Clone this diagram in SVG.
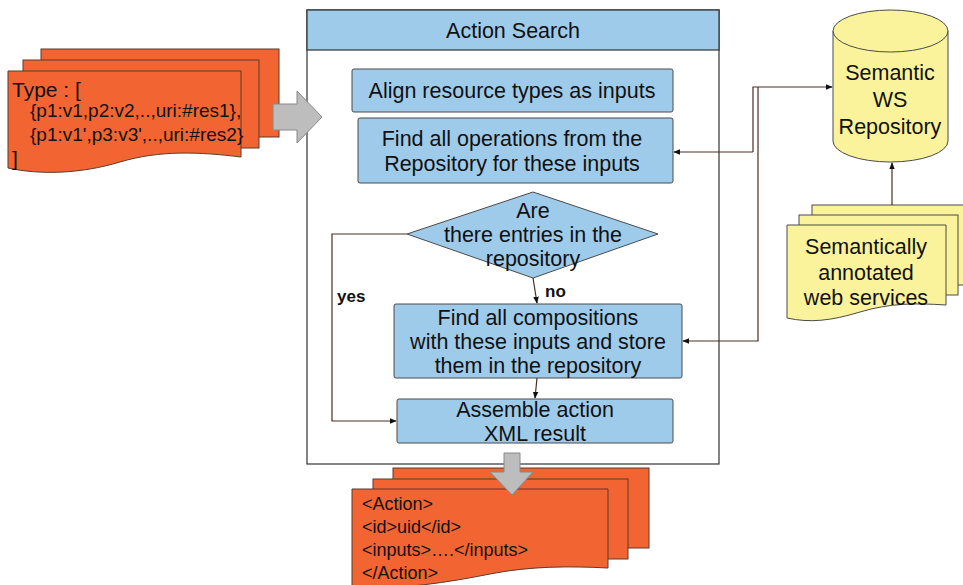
<svg xmlns="http://www.w3.org/2000/svg" width="963" height="585" viewBox="0 0 963 585">
<style>
text{font-family:"Liberation Sans",Arial,sans-serif;fill:#111;}
.t{font-size:21.5px;text-anchor:middle;}
.b{font-size:17px;font-weight:bold;}
.d1{font-size:19px;}
.d2{font-size:18px;}
.box{fill:#9fcbeb;stroke:#4a4a4a;stroke-width:1;}
.org{fill:#f26532;stroke:#5a3b2c;stroke-width:1;}
.yel{fill:#faf39c;stroke:#4a4a4a;stroke-width:1;}
.gray{fill:#bdbdbd;stroke:#888;stroke-width:1;}
.ln{fill:none;stroke:#4a2e25;stroke-width:1.2;}
</style>
<defs>
<marker id="ah" viewBox="0 0 10 10" refX="9" refY="5" markerWidth="7" markerHeight="7" orient="auto" markerUnits="userSpaceOnUse">
<path d="M0,1 L10,5 L0,9 z" fill="#111"/>
</marker>
</defs>
<rect width="963" height="585" fill="#fff"/>

<g id="input-docs">
<rect class="org" x="41" y="49" width="238" height="88"/>
<rect class="org" x="23" y="60" width="236" height="88"/>
<path class="org" d="M8,71 H241 V157 C200,152 160,150 120,162 C80,174 40,175 8,168 Z"/>
<text x="12" y="97" style="font-size:21px">Type : [</text>
<text class="d1" x="30" y="117">{p1:v1,p2:v2,..,uri:#res1},</text>
<text class="d1" x="30" y="141">{p1:v1',p3:v3',..,uri:#res2}</text>
<text x="12" y="166" style="font-size:21px">]</text>
</g>

<g id="action-search">
<rect x="307" y="10" width="412" height="454" fill="#fff" stroke="#333" stroke-width="1.2"/>
<rect x="307" y="10" width="412" height="40" fill="#9fcbeb" stroke="#333" stroke-width="1.2"/>
<text class="t" x="513" y="38">Action Search</text>
</g>

<g id="arrow-in">
<path class="gray" d="M273,104 H297 V91 L322,117 L297,143 V130 H273 Z"/>
</g>

<g id="align">
<rect class="box" x="352" y="69" width="321" height="43" rx="2"/>
<text class="t" x="512" y="98">Align resource types as inputs</text>
</g>

<g id="find-ops">
<rect class="box" x="358" y="118" width="315" height="65" rx="2"/>
<text class="t" x="512" y="146">Find all operations from the</text>
<text class="t" x="512" y="171">Repository for these inputs</text>
</g>

<g id="decision">
<path class="box" d="M533,192 L658,234 L533,278 L407,234 Z"/>
<text class="t" x="533" y="218">Are</text>
<text class="t" x="533" y="242">there entries in the</text>
<text class="t" x="533" y="266">repository</text>
</g>

<g id="find-comp">
<rect class="box" x="394" y="304" width="288" height="74" rx="2"/>
<text class="t" x="538" y="325">Find all compositions</text>
<text class="t" x="538" y="349">with these inputs and store</text>
<text class="t" x="538" y="373">them in the repository</text>
</g>

<g id="assemble">
<rect class="box" x="397" y="399" width="276" height="44" rx="2"/>
<text class="t" x="535" y="417">Assemble action</text>
<text class="t" x="535" y="441">XML result</text>
</g>

<g id="output-docs">
<rect class="org" x="393" y="468" width="256" height="80"/>
<rect class="org" x="373" y="479" width="255" height="80"/>
<path class="org" d="M352,489 H608 V568 C570,566 530,566 490,574 C450,582 400,590 352,588 Z"/>
<text class="d2" x="362" y="510">&lt;Action&gt;</text>
<text class="d2" x="362" y="533">&lt;id&gt;uid&lt;/id&gt;</text>
<text class="d2" x="362" y="556">&lt;inputs&gt;….&lt;/inputs&gt;</text>
<text class="d2" x="362" y="579">&lt;/Action&gt;</text>
</g>

<g id="arrow-out">
<path class="gray" d="M504,453 H520 V472 H533 L512,495 L490,472 H504 Z"/>
</g>

<g id="repository">
<path class="yel" d="M833,31 V141 A57.5,21 0 0 0 948,141 V31"/>
<ellipse class="yel" cx="890.5" cy="31" rx="57.5" ry="21"/>
<text class="t" x="890" y="80">Semantic</text>
<text class="t" x="890" y="107">WS</text>
<text class="t" x="890" y="134">Repository</text>
</g>

<g id="ws-docs">
<rect class="yel" x="812" y="205" width="160" height="80"/>
<rect class="yel" x="799" y="215" width="159" height="80"/>
<path class="yel" d="M787,225 H946 V305 C915,303 890,303 860,312 C830,321 810,323 787,318 Z"/>
<text class="t" x="866" y="254">Semantically</text>
<text class="t" x="866" y="280">annotated</text>
<text class="t" x="866" y="305">web services</text>
</g>

<g id="connectors">
<path class="ln" d="M533,278 L537,303" marker-end="url(#ah)"/>
<path class="ln" d="M537,378 L535,398" marker-end="url(#ah)"/>
<path class="ln" d="M407,234 H332 V421 H396" marker-end="url(#ah)"/>
<path class="ln" d="M753,152 V87 H832" marker-end="url(#ah)"/>
<path class="ln" d="M753,152 H674" marker-end="url(#ah)"/>
<path class="ln" d="M758,87 V341 H683" marker-end="url(#ah)"/>
<path class="ln" d="M892,205 V163" marker-end="url(#ah)"/>
<text class="b" x="545" y="297">no</text>
<text class="b" x="337" y="302">yes</text>
</g>
</svg>
